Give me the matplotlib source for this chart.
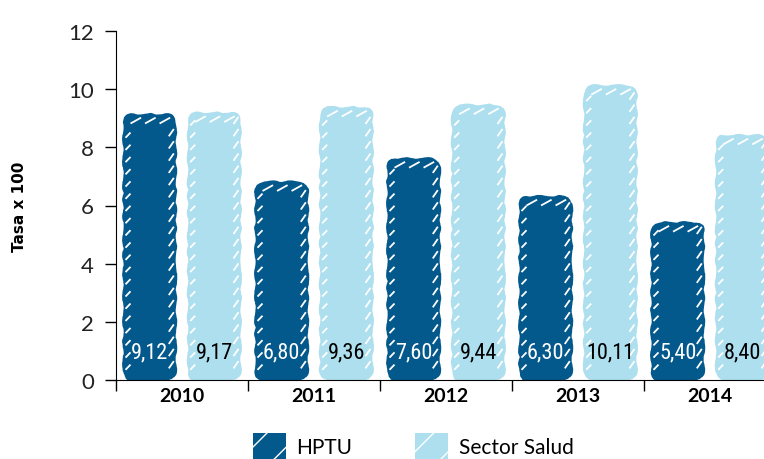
import matplotlib
matplotlib.use("Agg")
import matplotlib.pyplot as plt
import numpy as np
from matplotlib.collections import LineCollection
from matplotlib.patches import FancyBboxPatch

# Tasa x 100 por año, HPTU vs. sector salud
years = ["2010", "2011", "2012", "2013", "2014"]
hptu = [9.12, 6.80, 7.60, 6.30, 5.40]
salud = [9.17, 9.36, 9.44, 10.11, 8.40]
series = ["HPTU", "Sector Salud"]
y_ticks = [0, 2, 4, 6, 8, 10, 12]

c_dark = "#03588C"
c_light = "#ADDFEE"
narrow = ["Roboto Condensed", "Liberation Sans Narrow", "DejaVu Sans"]

fig = plt.figure(figsize=(7.64, 4.6), dpi=100)
ax = fig.add_axes([116 / 764, 1 - 381 / 460, 660 / 764, 349 / 460])

x = np.arange(len(years))
w = 0.39
off = 0.245

bars_h = ax.bar(x - off, hptu, w, color=c_dark, label=series[0])
bars_s = ax.bar(x + off, salud, w, color=c_light, label=series[1])

# rounded, scribbled bars in place of the plain ones
aspect = (12 / 349) / (5 / 660)
for bars, col in ((bars_h, c_dark), (bars_s, c_light)):
    for b in bars:
        b.set_visible(False)
        x0, bw, bh = b.get_x(), b.get_width(), b.get_height()
        p = FancyBboxPatch((x0, 0), bw, bh,
                           boxstyle="round,pad=0,rounding_size=0.07",
                           mutation_aspect=aspect, facecolor=col,
                           edgecolor=col, lw=1.5)
        p.set_sketch_params(0.8, 30, 4)
        ax.add_patch(p)
        # short white strokes along both edges and the top
        segs = []
        for yy in np.arange(0.35, bh - 0.4, 0.42):
            segs.append([(x0 + 0.012, yy), (x0 + 0.05, yy + 0.18)])
            segs.append([(x0 + bw - 0.05, yy + 0.05), (x0 + bw - 0.012, yy + 0.3)])
        for xx in (x0 + 0.05, x0 + 0.16, x0 + 0.27):
            segs.append([(xx, bh - 0.3), (xx + 0.08, bh - 0.1)])
        ax.add_collection(LineCollection(segs, colors="white", linewidths=1.3))

for i in range(len(years)):
    ax.text(x[i] - off, 0.95, f"{hptu[i]:.2f}".replace(".", ","), color="white",
            ha="center", va="center", fontsize=16, family=narrow)
    ax.text(x[i] + off, 0.95, f"{salud[i]:.2f}".replace(".", ","), color="black",
            ha="center", va="center", fontsize=16, family=narrow)

ax.set_xlim(-0.5, 4.5)
ax.set_ylim(0, 12)
ax.set_yticks(y_ticks)
ax.set_yticklabels([str(v) for v in y_ticks], fontsize=16, color="#222222",
                   family="Lato")
ax.tick_params(axis="y", length=8, width=1, pad=8)

ax.set_xticks(np.arange(-0.5, 5, 1))
ax.set_xticklabels([])
ax.tick_params(axis="x", which="major", length=8, width=1)
ax.set_xticks(x, minor=True)
ax.set_xticklabels(years, minor=True, fontsize=14, fontweight="bold", family="Lato")
ax.tick_params(axis="x", which="minor", length=0, pad=5)

for s in ("top", "right"):
    ax.spines[s].set_visible(False)

fig.text(20 / 764, 1 - 207 / 460, "Tasa x 100", rotation=90, ha="center",
         va="center", fontsize=11, fontweight="bold")

h1 = FancyBboxPatch((0, 0), 1, 1, boxstyle="round,pad=0", facecolor=c_dark,
                    edgecolor="white", lw=0, hatch="/")
h2 = FancyBboxPatch((0, 0), 1, 1, boxstyle="round,pad=0", facecolor=c_light,
                    edgecolor="white", lw=0, hatch="/")
fig.legend([h1, h2], series, loc="center left", bbox_to_anchor=(234 / 764, 1 - 447 / 460),
           ncol=2, frameon=False, handlelength=1.6, handleheight=1.6,
           columnspacing=3.0, handletextpad=0.5, prop={"family": "Lato", "size": 15})

fig.savefig("out.png", dpi=100)
